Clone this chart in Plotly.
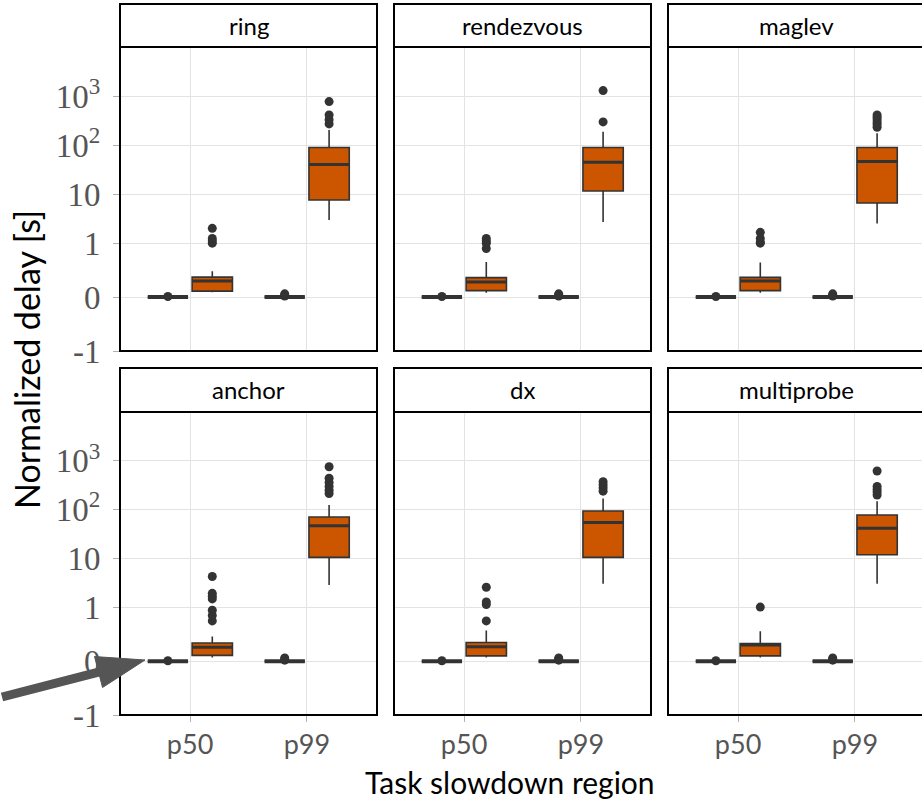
import math
import plotly.graph_objects as go

# ---------------- data ----------------
methods = ["ring", "rendezvous", "maglev", "anchor", "dx", "multiprobe"]
regions = ["p50", "p99"]

# orange group: [lowerfence, q1, median, q3, upperfence] per method, per region
p50_stats = {
    "ring":       [0.09, 0.11, 0.30, 0.37, 0.48],
    "rendezvous": [0.08, 0.12, 0.28, 0.36, 0.65],
    "maglev":     [0.08, 0.12, 0.30, 0.365, 0.64],
    "anchor":     [0.07, 0.11, 0.26, 0.34, 0.46],
    "dx":         [0.07, 0.10, 0.27, 0.35, 0.57],
    "multiprobe": [0.07, 0.10, 0.30, 0.33, 0.56],
}
p99_stats = {
    "ring":       [2.96, 7.6, 40, 89, 204],
    "rendezvous": [2.7, 11.6, 44.6, 89, 187],
    "maglev":     [2.5, 6.6, 46, 89, 174],
    "anchor":     [2.9, 10.6, 47, 71, 125],
    "dx":         [3.06, 10.6, 55, 94, 170],
    "multiprobe": [3.06, 12, 42, 78, 150],
}
p50_outliers = {
    "ring":       [1.0, 1.1, 1.25, 2.0],
    "rendezvous": [0.9, 1.0, 1.1, 1.25],
    "maglev":     [1.0, 1.05, 1.25, 1.66],
    "anchor":     [0.75, 0.85, 0.95, 1.5, 1.7, 1.95, 4.3],
    "dx":         [0.75, 1.15, 1.3, 2.6],
    "multiprobe": [1.02],
}
p99_outliers = {
    "ring":       [270, 330, 410, 770],
    "rendezvous": [297, 1290],
    "maglev":     [230, 260, 290, 330, 370, 410],
    "anchor":     [215, 250, 300, 360, 440, 760],
    "dx":         [240, 280, 320, 375],
    "multiprobe": [200, 230, 260, 300, 620],
}
# dark (baseline) group: all quartiles at zero, a few tiny outliers
base_stats = [0, 0, 0, 0, 0]
base_outliers = {"p50": [0.01], "p99": [0.02, 0.04, 0.06]}

y_tick_values = [-1, 0, 1, 10, 100, 1000]
y_tick_labels = ["-1", "0", "1", "10", "10<sup>2</sup>", "10<sup>3</sup>"]


# pseudo-log transform used by the y scale
def tr(v):
    if abs(v) <= 1:
        return 1.1 * v
    return math.copysign(1.1 + math.log10(abs(v)), v)


# ---------------- style ----------------
W, H = 922, 804
ORANGE = "#CC5500"
DARK = "#333333"
GRID = "#e3e3e3"
col_left = [120, 394, 668]
panel_w = 257
row_plot = [(47, 351), (412, 715)]
row_strip = [(4, 47), (368, 412)]
xr_full = [0.4, 2.6]
dodge = 0.19
bw = 0.345


def px(x):
    return x / W


def py(y):
    return 1 - y / H


fig = go.Figure()
layout = dict(
    width=W, height=H, autosize=False, margin=dict(l=0, r=0, t=0, b=0, pad=0),
    paper_bgcolor="white", plot_bgcolor="white", showlegend=False,
)
shapes = []
annotations = []

for i, m in enumerate(methods):
    r, c = divmod(i, 3)
    xa = "x" if i == 0 else f"x{i+1}"
    ya = "y" if i == 0 else f"y{i+1}"
    x0 = col_left[c]
    x1 = x0 + panel_w
    vis_x1 = min(x1, W)
    xr = [xr_full[0], xr_full[0] + (xr_full[1] - xr_full[0]) * (vis_x1 - x0) / panel_w]
    top, bot = row_plot[r]

    layout["xaxis" if i == 0 else f"xaxis{i+1}"] = dict(
        domain=[px(x0), px(vis_x1)], range=xr, anchor=ya,
        tickvals=[1, 2], ticktext=regions, showticklabels=(r == 1),
        ticks="outside" if r == 1 else "", ticklen=6, tickcolor="#b3b3b3",
        tickfont=dict(family="Lato", size=27, color="#555555"),
        showgrid=True, gridcolor=GRID, gridwidth=1, zeroline=False, showline=False,
        fixedrange=True, automargin=False,
    )
    layout["yaxis" if i == 0 else f"yaxis{i+1}"] = dict(
        domain=[py(bot), py(top)], range=[-1.1, 5.1], anchor=xa,
        tickvals=[tr(v) for v in y_tick_values], ticktext=y_tick_labels,
        showticklabels=(c == 0), ticks="outside" if c == 0 else "", ticklen=6,
        tickcolor="#b3b3b3", ticklabelstandoff=6,
        tickfont=dict(family="Liberation Serif", size=33, color="#555555"),
        showgrid=True, gridcolor=GRID, gridwidth=1, zeroline=False, showline=False,
        fixedrange=True, automargin=False,
    )

    for k, reg in enumerate(regions):
        center = k + 1
        groups = [
            (center - dodge, base_stats, base_outliers[reg], DARK, 4),
            (center + dodge,
             p50_stats[m] if reg == "p50" else p99_stats[m],
             p50_outliers[m] if reg == "p50" else p99_outliers[m], ORANGE, 3),
        ]
        for pos, st, outs, fillc, medw in groups:
            lo, q1, med, q3, hi = [tr(v) for v in st]
            fig.add_trace(go.Box(
                x=[pos], q1=[q1], median=[med], q3=[q3], lowerfence=[lo], upperfence=[hi],
                width=bw, fillcolor=fillc, line=dict(color=DARK, width=1.6),
                whiskerwidth=0, boxpoints=False, xaxis=xa, yaxis=ya, hoverinfo="skip",
            ))
            fig.add_trace(go.Scatter(
                x=[pos - bw / 2, pos + bw / 2], y=[med, med], mode="lines",
                line=dict(color=DARK, width=medw), xaxis=xa, yaxis=ya, hoverinfo="skip",
            ))
            fig.add_trace(go.Scatter(
                x=[pos] * len(outs), y=[tr(v) for v in outs], mode="markers",
                marker=dict(color=DARK, size=9), xaxis=xa, yaxis=ya, hoverinfo="skip",
                cliponaxis=False,
            ))

    # panel border
    shapes.append(dict(type="rect", xref="paper", yref="paper",
                       x0=px(x0), x1=px(x1), y0=py(bot), y1=py(top),
                       line=dict(color="black", width=2), fillcolor="rgba(0,0,0,0)",
                       layer="above"))
    # strip
    s_top, s_bot = row_strip[r]
    shapes.append(dict(type="rect", xref="paper", yref="paper",
                       x0=px(x0), x1=px(x1), y0=py(s_bot), y1=py(s_top),
                       line=dict(color="black", width=2), fillcolor="white",
                       layer="above"))
    annotations.append(dict(text=m, xref="paper", yref="paper",
                            x=px(x0 + panel_w / 2), y=py((s_top + s_bot) / 2),
                            xanchor="center", yanchor="middle", showarrow=False,
                            font=dict(family="Lato", size=24, color="black")))

# axis titles
annotations.append(dict(text="Normalized delay [s]", xref="paper", yref="paper",
                        x=px(27), y=py(360), textangle=-90, xanchor="center",
                        yanchor="middle", showarrow=False,
                        font=dict(family="Lato", size=34, color="black")))
annotations.append(dict(text="Task slowdown region", xref="paper", yref="paper",
                        x=px(510), y=py(782), xanchor="center", yanchor="middle",
                        showarrow=False, font=dict(family="Lato", size=30, color="black")))

# pointer arrow
tail = (2, 697)
tip = (145, 660)
dxp, dyp = tip[0] - tail[0], tip[1] - tail[1]
L = math.hypot(dxp, dyp)
ux, uy = dxp / L, dyp / L
nx, ny = -uy, ux
head_len, head_half = 48, 16
base = (tip[0] - head_len * ux, tip[1] - head_len * uy)
shapes.append(dict(type="line", xref="paper", yref="paper",
                   x0=px(tail[0]), y0=py(tail[1]), x1=px(base[0] + 3 * ux), y1=py(base[1] + 3 * uy),
                   line=dict(color="#555555", width=9), layer="above"))
c1 = (base[0] + head_half * nx, base[1] + head_half * ny)
c2 = (base[0] - head_half * nx, base[1] - head_half * ny)
path = (f"M {px(tip[0])},{py(tip[1])} L {px(c1[0])},{py(c1[1])} "
        f"L {px(c2[0])},{py(c2[1])} Z")
shapes.append(dict(type="path", xref="paper", yref="paper", path=path,
                   fillcolor="#555555", line=dict(color="#555555", width=1), layer="above"))

layout["shapes"] = shapes
layout["annotations"] = annotations
fig.update_layout(**layout)
fig.write_html("out.html", config={"responsive": False})
